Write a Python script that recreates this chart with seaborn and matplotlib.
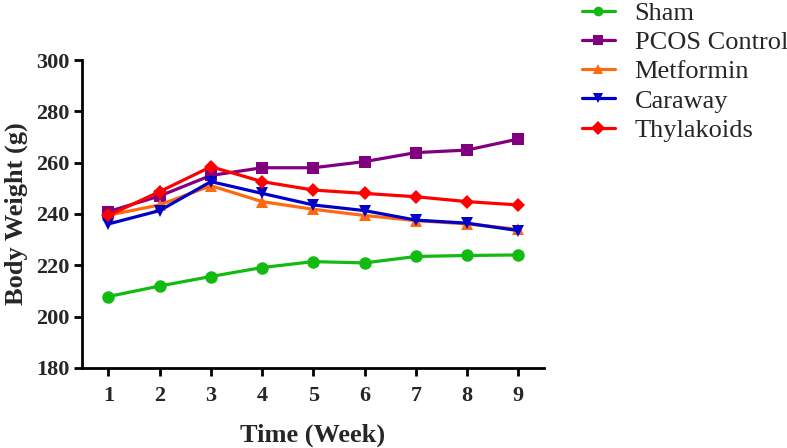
import matplotlib
matplotlib.use("Agg")
import matplotlib.pyplot as plt
import seaborn as sns
import pandas as pd

weeks = [1, 2, 3, 4, 5, 6, 7, 8, 9]
groups = ["Sham", "PCOS Control", "Metformin", "Caraway", "Thylakoids"]
sham = [207.8, 211.9, 215.6, 219.1, 221.4, 220.9, 223.4, 223.8, 224.0]
pcos = [240.9, 247.0, 255.0, 258.0, 258.0, 260.4, 263.9, 264.9, 269.2]
metformin = [239.5, 243.5, 251.0, 244.8, 241.8, 239.4, 237.4, 236.1, 234.0]
caraway = [236.1, 241.3, 252.6, 248.0, 243.5, 241.3, 237.6, 236.4, 233.5]
thylakoids = [239.4, 248.7, 258.4, 252.6, 249.3, 248.0, 246.7, 244.8, 243.5]

colors = {"Sham": "#11BB11", "PCOS Control": "#800080", "Metformin": "#FF6A10",
          "Caraway": "#0000C8", "Thylakoids": "#FF0000"}
markers = {"Sham": "o", "PCOS Control": "s", "Metformin": "^",
           "Caraway": "v", "Thylakoids": "D"}

rows = []
for name, vals in zip(groups, [sham, pcos, metformin, caraway, thylakoids]):
    for w, v in zip(weeks, vals):
        rows.append({"Week": w, "Weight": v, "Group": name})
df = pd.DataFrame(rows)

sns.set_style("ticks")
plt.rcParams["font.family"] = ["Liberation Serif", "DejaVu Serif"]

fig = plt.figure(figsize=(7.87, 4.48), dpi=100)
ax = fig.add_axes([0.104, 0.179, 0.587, 0.687])

sns.lineplot(data=df, x="Week", y="Weight", hue="Group", style="Group",
             hue_order=groups, style_order=groups, palette=colors,
             markers=markers, dashes=False, linewidth=2.3, markersize=9,
             markeredgewidth=0, ax=ax)

# diamond is a bit smaller in the original
for line in ax.get_lines():
    if line.get_marker() == "D":
        line.set_markersize(7)

ax.set_xlim(0.48, 9.5)
ax.set_ylim(180, 300)
ax.set_xticks(weeks)
ax.set_yticks(range(180, 301, 20))
ax.set_xlabel("Time (Week)", fontsize=19, fontweight="bold", labelpad=13)
ax.set_ylabel("Body Weight (g)", fontsize=19, fontweight="bold")
ax.yaxis.set_label_coords(-0.117, 0.5)
for lab in ax.get_xticklabels() + ax.get_yticklabels():
    lab.set_fontweight("bold")
    lab.set_fontsize(16)
ax.tick_params(axis="both", width=2, length=6, color="black")
ax.tick_params(axis="x", pad=7)
ax.tick_params(axis="y", pad=3)
for s in ["top", "right"]:
    ax.spines[s].set_visible(False)
for s in ["left", "bottom"]:
    ax.spines[s].set_linewidth(2)
    ax.spines[s].set_color("black")

handles, labels = ax.get_legend_handles_labels()
ax.get_legend().remove()
for h in handles:
    h.set_markersize(7)
fig.legend(handles, labels, loc="upper left", bbox_to_anchor=(0.736, 1.003),
           frameon=False, fontsize=19, handlelength=1.25, labelspacing=0.22,
           handletextpad=0.75, borderpad=0.1, borderaxespad=0)

fig.savefig("out.png", dpi=100)
